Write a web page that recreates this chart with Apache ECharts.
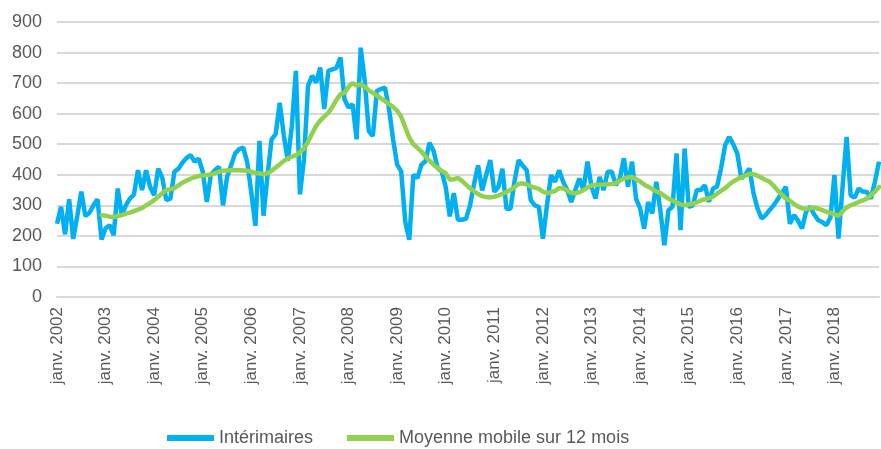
<!DOCTYPE html>
<html>
<head>
<meta charset="utf-8">
<script src="https://cdn.jsdelivr.net/npm/echarts@6/dist/echarts.min.js"></script>
<style>
  html, body { margin: 0; padding: 0; background: #fff; }
  #chart { width: 881px; height: 449px; }
</style>
</head>
<body>
<div id="chart"></div>
<script>
// mois de janv. 2002 à déc. 2018
const moisNoms = ['janv.', 'févr.', 'mars', 'avr.', 'mai', 'juin', 'juil.', 'août', 'sept.', 'oct.', 'nov.', 'déc.'];
const annees = [2002, 2003, 2004, 2005, 2006, 2007, 2008, 2009, 2010, 2011, 2012, 2013, 2014, 2015, 2016, 2017, 2018];

const interimaires = [
  240, 295, 205, 320, 190, 265, 345, 265, 275, 300, 320, 188,   // 2002
  225, 235, 202, 355, 268, 300, 322, 335, 415, 350, 415, 360,   // 2003
  333, 420, 390, 317, 322, 410, 420, 440, 455, 464, 443, 453,   // 2004
  410, 311, 400, 415, 426, 300, 393, 431, 470, 484, 489, 440,   // 2005
  340, 233, 511, 266, 400, 516, 533, 636, 530, 446, 560, 740,   // 2006
  336, 451, 691, 724, 702, 751, 615, 740, 745, 750, 784, 647,   // 2007
  620, 631, 516, 816, 707, 543, 527, 675, 680, 685, 615, 516,   // 2008
  433, 411, 247, 187, 400, 389, 433, 444, 505, 478, 422, 411,   // 2009
  360, 264, 340, 253, 253, 256, 300, 370, 431, 349, 400, 448,   // 2010
  344, 360, 420, 289, 289, 380, 448, 430, 415, 317, 300, 295,   // 2011
  191, 300, 399, 377, 415, 377, 350, 311, 350, 388, 350, 443,   // 2012
  361, 322, 393, 350, 410, 410, 366, 388, 454, 361, 443, 322,   // 2013
  290, 224, 311, 273, 377, 284, 169, 284, 295, 470, 219, 486,   // 2014
  295, 300, 350, 350, 366, 311, 355, 361, 421, 497, 524, 500,   // 2015
  470, 388, 400, 421, 340, 290, 257, 268, 285, 300, 320, 340,   // 2016
  361, 240, 268, 250, 224, 280, 295, 270, 251, 245, 235, 260,   // 2017
  399, 191, 360, 524, 333, 325, 355, 345, 344, 322, 377, 443    // 2018
];

const moyenneMobile = [
  null, null, null, null, null, null, null, null, null, null, null, 268,
  266, 263, 262, 265, 268, 273, 276, 281, 286, 291, 300, 308,
  317, 328, 340, 350, 353, 356, 365, 374, 381, 387, 392, 396,
  398, 399, 401, 405, 410, 413, 414, 415, 415, 415, 414, 413,
  410, 406, 404, 402, 405, 413, 424, 434, 445, 454, 459, 464,
  474, 486, 508, 535, 560, 577, 590, 603, 622, 645, 664, 668,
  688, 700, 692, 696, 688, 676, 668, 660, 650, 641, 631, 622,
  610, 590, 555, 522, 500, 488, 476, 460, 446, 433, 422, 413,
  405, 384, 385, 390, 380, 368, 356, 346, 337, 330, 327, 326,
  328, 332, 338, 344, 350, 360, 370, 372, 368, 362, 358, 354,
  345, 340, 343, 347, 357, 356, 348, 341, 339, 343, 350, 358,
  365, 367, 367, 368, 369, 370, 373, 381, 388, 391, 393, 386,
  378, 368, 361, 353, 346, 340, 331, 322, 316, 309, 303, 300,
  303, 305, 310, 316, 320, 323, 328, 338, 347, 356, 368, 378,
  385, 392, 397, 403, 402, 397, 390, 383, 377, 364, 348, 335,
  322, 315, 305, 296, 290, 288, 290, 292, 289, 284, 279, 275,
  270, 266, 280, 293, 300, 305, 311, 316, 322, 333, 345, 360
];

const categories = [];
annees.forEach(a => moisNoms.forEach(m => categories.push(m + ' ' + a)));

const chart = echarts.init(document.getElementById('chart'));
const police = '"Liberation Sans", Arial, sans-serif';

chart.setOption({
  animation: false,
  textStyle: { fontFamily: police },
  grid: { left: 57, right: 2, top: 22, bottom: 152 },
  legend: {
    left: 162,
    top: 424,
    itemWidth: 47,
    itemHeight: 6,
    itemGap: 34,
    icon: 'rect',
    textStyle: { fontSize: 18, color: '#595959', fontFamily: police },
    data: ['Intérimaires', 'Moyenne mobile sur 12 mois']
  },
  xAxis: {
    type: 'category',
    data: categories,
    boundaryGap: false,
    axisTick: { show: false },
    axisLine: { show: true, lineStyle: { color: '#d9d9d9', width: 2 } },
    axisLabel: {
      interval: 11,
      rotate: 90,
      margin: 10,
      fontSize: 17,
      color: '#595959',
      fontFamily: police
    }
  },
  yAxis: {
    type: 'value',
    min: 0,
    max: 900,
    interval: 100,
    axisLine: { show: false },
    axisTick: { show: false },
    splitLine: { lineStyle: { color: '#d9d9d9', width: 2 } },
    axisLabel: { fontSize: 18, color: '#595959', margin: 15, fontFamily: police }
  },
  series: [
    {
      name: 'Intérimaires',
      type: 'line',
      data: interimaires,
      showSymbol: false,
      symbol: 'none',
      lineStyle: { color: '#00b0f0', width: 4.5 },
      itemStyle: { color: '#00b0f0' }
    },
    {
      name: 'Moyenne mobile sur 12 mois',
      type: 'line',
      data: moyenneMobile,
      showSymbol: false,
      symbol: 'none',
      lineStyle: { color: '#92d050', width: 4.5, cap: 'round' },
      itemStyle: { color: '#92d050' }
    }
  ]
});

window.addEventListener('resize', function () {
  chart.resize();
});
</script>
</body>
</html>
